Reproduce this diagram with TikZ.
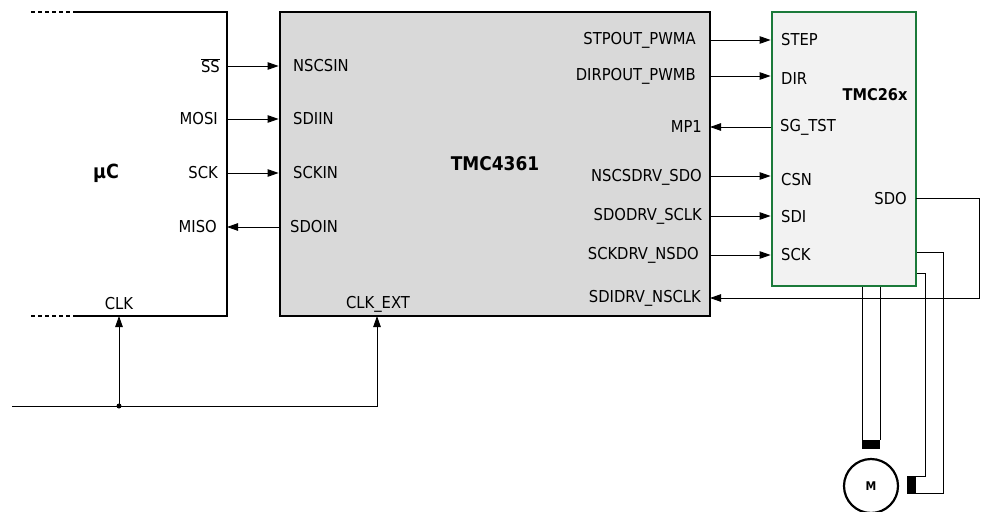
\documentclass[tikz,border=0pt]{standalone}
\usepackage{fontspec}
\setmainfont{DejaVu Sans Condensed}
\usetikzlibrary{arrows.meta}
\definecolor{chipgray}{HTML}{D9D9D9}
\definecolor{drvgray}{HTML}{F2F2F2}
\definecolor{drvgreen}{HTML}{1B7A3A}
\begin{document}
\begin{tikzpicture}[x=1pt,y=-1pt,font=\fontsize{16.4}{18}\selectfont,
	pin/.style={inner sep=0pt},
	sig/.style={-{Triangle[length=11pt,width=7.5pt]},line width=0.9pt},
	wire/.style={line width=0.9pt},
	chip/.style={draw,line width=2.8pt,fill=chipgray,minimum width=430pt,minimum height=304pt,inner sep=0pt},
	driver/.style={draw=drvgreen,line width=2.8pt,fill=drvgray,minimum width=144pt,minimum height=274pt,inner sep=0pt}]
	\useasboundingbox (0,0) rectangle (981,511);
	% microcontroller
	\draw [line width=2.8pt] (75,12) -- (227,12) -- (227,316) -- (75,316);
	\draw [line width=2.8pt,dash pattern=on 4pt off 3pt] (31,12) -- (75,12);
	\draw [line width=2.8pt,dash pattern=on 4pt off 3pt] (31,316) -- (75,316);
	\node (uc) at (106,173) {\fontsize{19.5}{21}\selectfont\bfseries µC};
	% chips
	\node [chip] (tmc) at (495,164) {\fontsize{18.9}{21}\selectfont\bfseries TMC4361};
	\node [driver] (drv) at (844,149) {};
	\node (drvname) at (875,95) {\fontsize{16.2}{18}\selectfont\bfseries TMC26x};
	% pin positions
	\coordinate (ucSS) at (227,66);
	\coordinate (ucMOSI) at (227,119);
	\coordinate (ucSCK) at (227,173);
	\coordinate (ucMISO) at (227,227);
	\coordinate (ucCLK) at (119,316);
	\coordinate (tmcCLK) at (377,316);
	\coordinate (clkin) at (12,406);
	\coordinate (clkdot) at (119,406);
	\coordinate (tmcSTP) at (710,40);
	\coordinate (tmcDIR) at (710,76);
	\coordinate (tmcMP) at (710,127);
	\coordinate (tmcCS) at (710,176);
	\coordinate (tmcSDO) at (710,216);
	\coordinate (tmcSCK) at (710,255);
	\coordinate (tmcSDI) at (710,298);
	\coordinate (drvSDO) at (916,198);
	% pin labels
	\node [pin,anchor=east] (ss) at (220,66) {$\overline{\hbox{SS}}$};
	\node [pin,anchor=east] (mosi) at (218,119) {MOSI};
	\node [pin,anchor=east] (sck) at (218,173) {SCK};
	\node [pin,anchor=east] (miso) at (217,227) {MISO};
	\node [pin] (clk) at (119,304) {CLK};
	\node [pin,anchor=west] (nscsin) at (293,66) {NSCSIN};
	\node [pin,anchor=west] (sdiin) at (293,119) {SDIIN};
	\node [pin,anchor=west] (sckin) at (293,173) {SCKIN};
	\node [pin,anchor=west] (sdoin) at (290,227) {SDOIN};
	\node [pin] (clkext) at (378,304) {CLK\_EXT};
	\node [pin,anchor=east] (stpout) at (696,40) {STPOUT\_PWMA};
	\node [pin,anchor=east] (dirpout) at (696,76) {DIRPOUT\_PWMB};
	\node [pin,anchor=east] (mp) at (702,127) {MP1};
	\node [pin,anchor=east] (nscsdrv) at (702,177) {NSCSDRV\_SDO};
	\node [pin,anchor=east] (sdodrv) at (702,216) {SDODRV\_SCLK};
	\node [pin,anchor=east] (sckdrv) at (699,255) {SCKDRV\_NSDO};
	\node [pin,anchor=east] (sdidrv) at (701,298) {SDIDRV\_NSCLK};
	\node [pin,anchor=west] (step) at (781,40) {STEP};
	\node [pin,anchor=west] (dir) at (781,79) {DIR};
	\node [pin,anchor=west] (sgtst) at (780,127) {SG\_TST};
	\node [pin,anchor=west] (csn) at (781,180) {CSN};
	\node [pin,anchor=west] (sdi) at (781,217) {SDI};
	\node [pin,anchor=west] (sckd) at (781,255) {SCK};
	\node [pin,anchor=east] (sdo) at (907,199) {SDO};
	% spi
	\draw [sig] (ucSS) -- (tmc.west |- ucSS);
	\draw [sig] (ucMOSI) -- (tmc.west |- ucMOSI);
	\draw [sig] (ucSCK) -- (tmc.west |- ucSCK);
	\draw [sig] (tmc.west |- ucMISO) -- (ucMISO);
	% clock
	\draw [sig] (clkin) -| (tmcCLK);
	\draw [sig] (clkdot) -- (ucCLK);
	\fill (clkdot) circle (2.5);
	% driver lines
	\draw [sig] (tmcSTP) -- (drv.west |- tmcSTP);
	\draw [sig] (tmcDIR) -- (drv.west |- tmcDIR);
	\draw [sig] (drv.west |- tmcMP) -- (tmcMP);
	\draw [sig] (tmcCS) -- (drv.west |- tmcCS);
	\draw [sig] (tmcSDO) -- (drv.west |- tmcSDO);
	\draw [sig] (tmcSCK) -- (drv.west |- tmcSCK);
	\draw [sig] (drvSDO) -- (979,198) |- (tmcSDI);
	% motor
	\node [draw,circle,line width=2.2pt,minimum size=54pt,inner sep=0pt,font=\fontsize{12}{14}\selectfont\bfseries] (motor) at (871,486) {M};
	\fill (862,440) rectangle (880,449);
	\fill (907,476) rectangle (916,494);
	\draw [wire] (drv.south -| 862,0) -- (862,440);
	\draw [wire] (drv.south -| 880,0) -- (880,440);
	\draw [wire] (drv.east |- 0,252) -- (943,252) |- (916,493);
	\draw [wire] (drv.east |- 0,273) -- (925,273) |- (916,476);
\end{tikzpicture}
\end{document}
